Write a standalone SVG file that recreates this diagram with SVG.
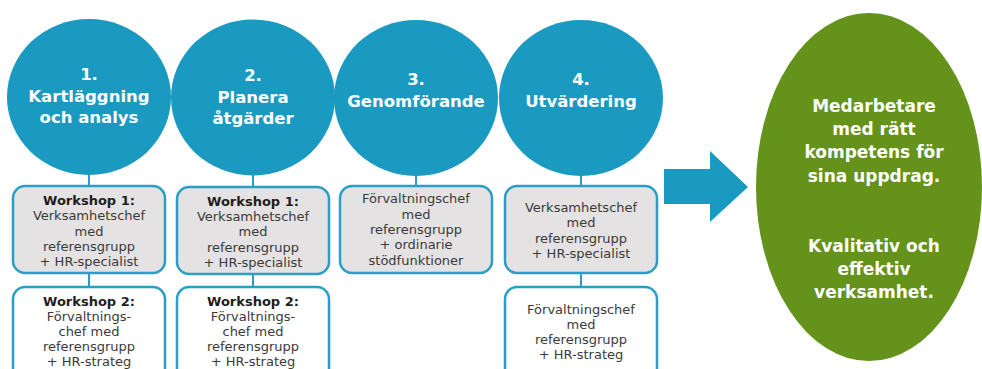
<svg xmlns="http://www.w3.org/2000/svg" width="982" height="369" viewBox="0 0 982 369">
<style>
.circ{fill:#1a9ac0}
.box{stroke:#2a9fc6;stroke-width:2.5}
.g{fill:#e4e2e2}
.w{fill:#ffffff}
.con{stroke:#2a9fc6;stroke-width:2;fill:none}
.ct{font-family:"DejaVu Sans",sans-serif;font-weight:bold;font-size:16.5px;fill:#ffffff;text-anchor:middle}
.bt{font-family:"DejaVu Sans",sans-serif;font-size:13px;fill:#3a3a3a;text-anchor:middle}
.bb{font-weight:bold;fill:#1e1e1e}
.gt{font-family:"DejaVu Sans",sans-serif;font-weight:bold;font-size:17px;fill:#ffffff;text-anchor:middle}
</style>
<rect width="982" height="369" fill="#ffffff"/>
<g id="connectors">
<line class="con" x1="89" y1="170" x2="89" y2="187"/>
<line class="con" x1="89" y1="272" x2="89" y2="288"/>
<line class="con" x1="253" y1="170" x2="253" y2="187"/>
<line class="con" x1="253" y1="272" x2="253" y2="288"/>
<line class="con" x1="416" y1="170" x2="416" y2="187"/>
<line class="con" x1="581" y1="170" x2="581" y2="187"/>
<line class="con" x1="581" y1="272" x2="581" y2="288"/>
</g>
<g id="step1">
<ellipse class="circ" cx="89" cy="97" rx="82" ry="78"/>
<text class="ct" x="89" y="80">1.</text>
<text class="ct" x="89" y="101.5">Kartläggning</text>
<text class="ct" x="89" y="123">och analys</text>
</g>
<g id="step2">
<ellipse class="circ" cx="253" cy="97.5" rx="82" ry="78"/>
<text class="ct" x="253" y="81">2.</text>
<text class="ct" x="253" y="102.5">Planera</text>
<text class="ct" x="253" y="124">åtgärder</text>
</g>
<g id="step3">
<ellipse class="circ" cx="416" cy="98" rx="82" ry="78"/>
<text class="ct" x="416" y="85">3.</text>
<text class="ct" x="416" y="107">Genomförande</text>
</g>
<g id="step4">
<ellipse class="circ" cx="581" cy="98" rx="82" ry="78"/>
<text class="ct" x="581" y="85">4.</text>
<text class="ct" x="581" y="107">Utvärdering</text>
</g>
<g id="box1a">
<rect class="box g" x="13" y="186" width="152" height="87" rx="12"/>
<text class="bt bb" x="89" y="205">Workshop 1:</text>
<text class="bt" x="89" y="220">Verksamhetschef</text>
<text class="bt" x="89" y="235.5">med</text>
<text class="bt" x="89" y="251">referensgrupp</text>
<text class="bt" x="89" y="266">+ HR-specialist</text>
</g>
<g id="box1b">
<rect class="box w" x="13" y="287" width="152" height="100" rx="12"/>
<text class="bt bb" x="89" y="306">Workshop 2:</text>
<text class="bt" x="89" y="321">Förvaltnings-</text>
<text class="bt" x="89" y="336">chef med</text>
<text class="bt" x="89" y="351">referensgrupp</text>
<text class="bt" x="89" y="366">+ HR-strateg</text>
</g>
<g id="box2a">
<rect class="box g" x="177" y="187" width="152" height="87" rx="12"/>
<text class="bt bb" x="253" y="206">Workshop 1:</text>
<text class="bt" x="253" y="221">Verksamhetschef</text>
<text class="bt" x="253" y="236">med</text>
<text class="bt" x="253" y="251.5">referensgrupp</text>
<text class="bt" x="253" y="266.5">+ HR-specialist</text>
</g>
<g id="box2b">
<rect class="box w" x="177" y="287" width="152" height="100" rx="12"/>
<text class="bt bb" x="253" y="306">Workshop 2:</text>
<text class="bt" x="253" y="321">Förvaltnings-</text>
<text class="bt" x="253" y="336">chef med</text>
<text class="bt" x="253" y="351">referensgrupp</text>
<text class="bt" x="253" y="366">+ HR-strateg</text>
</g>
<g id="box3">
<rect class="box g" x="340" y="186" width="152" height="87" rx="12"/>
<text class="bt" x="416" y="203">Förvaltningschef</text>
<text class="bt" x="416" y="218.5">med</text>
<text class="bt" x="416" y="234">referensgrupp</text>
<text class="bt" x="416" y="249">+ ordinarie</text>
<text class="bt" x="416" y="264.5">stödfunktioner</text>
</g>
<g id="box4a">
<rect class="box g" x="505" y="186" width="152" height="87" rx="12"/>
<text class="bt" x="581" y="212">Verksamhetschef</text>
<text class="bt" x="581" y="227">med</text>
<text class="bt" x="581" y="242.5">referensgrupp</text>
<text class="bt" x="581" y="257.5">+ HR-specialist</text>
</g>
<g id="box4b">
<rect class="box w" x="505" y="287" width="152" height="100" rx="12"/>
<text class="bt" x="581" y="314">Förvaltningschef</text>
<text class="bt" x="581" y="329">med</text>
<text class="bt" x="581" y="344">referensgrupp</text>
<text class="bt" x="581" y="359">+ HR-strateg</text>
</g>
<g id="arrow">
<polygon fill="#1a9ac0" points="664,169 710,169 710,151 748,187 710,222 710,204 664,204"/>
</g>
<g id="result">
<ellipse fill="#64921a" cx="869" cy="187" rx="113" ry="174"/>
<text class="gt" x="874" y="112">Medarbetare</text>
<text class="gt" x="874" y="135">med rätt</text>
<text class="gt" x="874" y="158">kompetens för</text>
<text class="gt" x="874" y="182">sina uppdrag.</text>
<text class="gt" x="874" y="252">Kvalitativ och</text>
<text class="gt" x="874" y="275">effektiv</text>
<text class="gt" x="874" y="298">verksamhet.</text>
</g>
</svg>
